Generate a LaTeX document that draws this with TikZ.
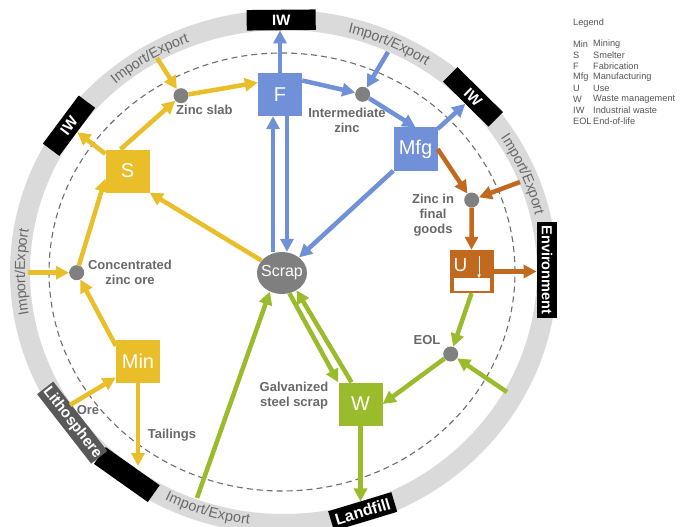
\documentclass[tikz,border=0pt]{standalone}
\usepackage{fontspec}
\setmainfont{Liberation Sans}
\usetikzlibrary{arrows.meta,calc,decorations.text,shapes.geometric}
\definecolor{ycol}{RGB}{234,190,40}
\definecolor{bcol}{RGB}{112,145,215}
\definecolor{ocol}{RGB}{193,105,30}
\definecolor{gcol}{RGB}{154,187,44}
\definecolor{scrapc}{RGB}{127,127,127}
\definecolor{dotc}{RGB}{128,128,128}
\definecolor{labc}{RGB}{105,105,105}
\definecolor{ringc}{RGB}{218,218,218}
\definecolor{ringtext}{RGB}{105,105,105}
\definecolor{lithoc}{RGB}{89,89,89}
\definecolor{dashc}{RGB}{110,110,110}
\definecolor{legc}{RGB}{85,85,85}
\newcommand\ringfont{\fontsize{14.5}{14.5}\selectfont}
\begin{document}
\begin{tikzpicture}[x=1pt,y=-1pt,
  rbox/.style={rectangle, fill=black, text=white, font=\bfseries\fontsize{15}{15}\selectfont, minimum height=20.5pt, inner sep=0pt},
  pbox/.style={rectangle, minimum width=44pt, minimum height=43pt, inner sep=0pt, text=white, font=\fontsize{20}{20}\selectfont},
  dot/.style={circle, fill=dotc, minimum size=15pt, inner sep=0pt},
  lab/.style={text=labc, font=\bfseries\fontsize{13}{15}\selectfont, align=center, inner sep=0pt},
  leg/.style={text=legc, font=\fontsize{9.2}{9.2}\selectfont, inner sep=0pt, anchor=west},
  arr/.style={line width=4.5pt, -{Triangle[length=13pt,width=13pt]}},
  yarr/.style={arr, draw=ycol},
  barr/.style={arr, draw=bcol},
  oarr/.style={arr, draw=ocol},
  garr/.style={arr, draw=gcol},
  ringlabel/.style={decorate, decoration={text along path, text align=center, raise=-5pt, text color=ringtext, text={|\ringfont|Import/Export}}}
]
\useasboundingbox (0,0) rectangle (681,527);
\fill[white] (0,0) rectangle (681,527);

% ring and dashed boundary
\draw[ringc, line width=20pt] (283.5,272) ellipse [x radius=263.5pt, y radius=252pt];
\draw[dashc, line width=1.1pt, dash pattern=on 6pt off 4pt] (282,272) ellipse [x radius=233pt, y radius=219pt];

% ring texts
\path[ringlabel] plot[domain=-141:-101, samples=41] ({283.5+263.5*cos(-\x)},{272-252*sin(-\x)});
\path[ringlabel] plot[domain=-86:-46, samples=41] ({283.5+263.5*cos(-\x)},{272-252*sin(-\x)});
\path[ringlabel] plot[domain=-43:-3, samples=41] ({283.5+263.5*cos(-\x)},{272-252*sin(-\x)});
\path[ringlabel] plot[domain=-200:-160, samples=41] ({283.5+263.5*cos(-\x)},{272-252*sin(-\x)});
\path[ringlabel] plot[domain=-127:-87, samples=41] ({283.5+261.5*cos(\x)},{272-249.5*sin(\x)});

% boxes on the ring
\node[rbox, minimum width=69pt, rotate=0.5] (iwT) at (281.2,20) {IW};
\node[rbox, minimum width=64pt, rotate=-44.7] (iwR) at (473,96.9) {IW};
\node[rbox, minimum width=60pt, rotate=53.3] (iwL) at (69,125.7) {IW};
\node[rbox, minimum width=96pt, rotate=-90, font=\bfseries\fontsize{14.5}{14.5}\selectfont] (env) at (547,269.8) {Environment};
\node[rbox, minimum width=66pt, rotate=16.8, font=\bfseries\fontsize{16}{16}\selectfont] (land) at (362.7,511.5) {Landfill};
\node[rbox, minimum width=66pt, rotate=-35.3] (tail) at (126.8,474.6) {};
\node[rbox, fill=lithoc, minimum width=88pt, rotate=-52.1] (litho) at (72.2,422.6) {Lithosphere};

% process nodes
\node[pbox, fill=bcol] (F) at (280,94.5) {F};
\node[pbox, fill=ycol] (S) at (127.5,171) {S};
\node[pbox, fill=bcol] (Mfg) at (415.5,149) {Mfg};
\node[pbox, fill=ycol] (Min) at (138,361.5) {Min};
\node[pbox, fill=ocol] (U) at (471.5,271.5) {};
\node[pbox, fill=gcol] (W) at (360.5,404) {W};
\node[ellipse, fill=scrapc, minimum width=50pt, minimum height=42pt, inner sep=0pt] (Scrap) at (282,273) {};
\node[text=white, font=\fontsize{16}{16}\selectfont, inner sep=0pt] (Scrapl) at (Scrap.center) {Scrap};

% U icon
\fill[white] ($(U.center)+(-18,6.5)$) rectangle ($(U.center)+(18,19)$);
\draw[white, line width=1pt, -{Triangle[length=3.5pt,width=3.5pt]}] ($(U.center)+(7.5,-15.5)$) -- ($(U.center)+(7.5,6.5)$);
\node[text=white, font=\fontsize{19}{19}\selectfont, inner sep=0pt] (Ulab) at ($(U.center)+(-11,-6)$) {U};

% stock dots
\node[dot] (zs) at (181,95.7) {};
\node[dot] (im) at (362.7,94.3) {};
\node[dot] (fg) at (471.7,200) {};
\node[dot] (conc) at (76.7,272.7) {};
\node[dot] (eol) at (450.7,354) {};

% labels
\node[lab, anchor=west] (zsl) at (176,110) {Zinc slab};
\node[lab] (iml) at (347,120.5) {Intermediate\\zinc};
\node[lab] (fgl) at (433,215.5) {Zinc in\\final\\goods};
\node[lab] (concl) at (130,272) {Concentrated\\zinc ore};
\node[lab] (eoll) at (427,340) {EOL};
\node[lab] (orel) at (88,410) {Ore};
\node[lab] (taill) at (172,435) {Tailings};
\node[lab] (galvl) at (294,396) {Galvanized\\steel scrap};

% free ends on the ring
\coordinate (ieUL) at (157,58);
\coordinate (ieUR) at (388,52);
\coordinate (ieR) at (520,182);
\coordinate (ieL) at (28,272.7);
\coordinate (oreS) at (70,405);
\coordinate (eolS) at (507,392);
\coordinate (ieB) at (197,498);
\coordinate (Fl) at ([xshift=-7pt]F.south);
\coordinate (Fr) at ([xshift=7pt]F.south);

% yellow flows
\draw[yarr] (ieUL) -- (zs);
\draw[yarr] ([xshift=-7pt]S.north) -- (zs);
\draw[yarr] (zs) -- ([yshift=12pt]F.west);
\draw[yarr] (S) -- (iwL);
\draw[yarr] (conc) -- ([yshift=14pt]S.south west);
\draw[yarr] (Scrap) -- (S.south east);
\draw[yarr] (ieL) -- (conc);
\draw[yarr] ([yshift=-6pt]Min.north west) -- (conc);
\draw[yarr] (oreS) -- ([yshift=-16pt]Min.west);
\draw[yarr] (Min.south) -- (Min.south |- tail.north);

% blue flows
\draw[barr] (F.north) -- (F.north |- iwT.south);
\draw[barr] ([yshift=14pt]F.east) -- (im);
\draw[barr] (ieUR) -- (im);
\draw[barr] (im) -- (Mfg.north);
\draw[barr] (Mfg) -- (iwR);
\draw[barr] (Mfg.south west) -- (Scrap);
\draw[barr] (Scrap.north -| Fl) -- (Fl);
\draw[barr] (Fr) -- (Scrap.north -| Fr);

% orange flows
\draw[oarr] (Mfg.east) -- (fg);
\draw[oarr] (ieR) -- (fg);
\draw[oarr] (fg) -- (U.north);
\draw[oarr] (U.east) -- (U.east -| env.south);

% green flows
\draw[garr] (U.south) -- (eol);
\draw[garr] (eolS) -- (eol);
\draw[garr] (eol) -- (W.east);
\draw[garr] (W.south) -- (W.south |- land.north);
\draw[garr] (Scrap.-70) -- (W.north west);
\draw[garr] ([xshift=-9pt]W.north) -- (Scrap.-50);
\draw[garr] (ieB) -- (Scrap.-123);

% legend
\node[leg] (legT) at (573,23) {Legend};
\node[leg] (k1) at (573,44) {Min};  \node[leg] (v1) at (593,44) {Mining};
\node[leg] (k2) at (573,55) {S};    \node[leg] (v2) at (593,55) {Smelter};
\node[leg] (k3) at (573,66) {F};    \node[leg] (v3) at (593,66) {Fabrication};
\node[leg] (k4) at (573,77) {Mfg};  \node[leg] (v4) at (593,77) {Manufacturing};
\node[leg] (k5) at (573,88) {U};    \node[leg] (v5) at (593,88) {Use};
\node[leg] (k6) at (573,99) {W};    \node[leg] (v6) at (593,99) {Waste management};
\node[leg] (k7) at (573,110) {IW};  \node[leg] (v7) at (593,110) {Industrial waste};
\node[leg] (k8) at (573,121) {EOL}; \node[leg] (v8) at (593,121) {End-of-life};
\end{tikzpicture}
\end{document}
